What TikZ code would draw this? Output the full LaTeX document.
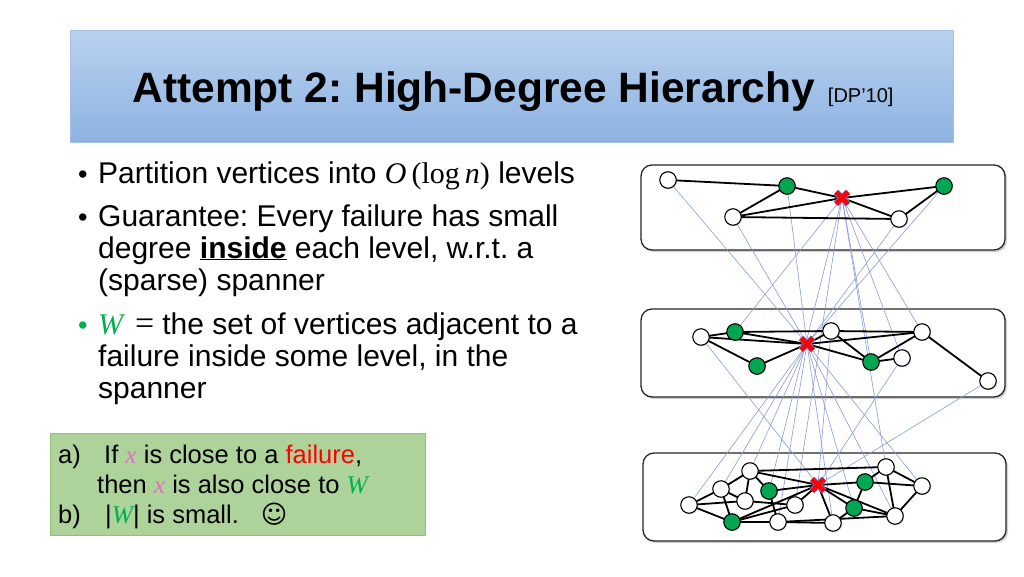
\RequirePackage{fix-cm}
\documentclass[tikz,border=0pt]{standalone}
\usepackage{fontspec}
\setmainfont{Liberation Sans}
\newfontfamily\symfont{DejaVu Sans}
\newfontfamily\mathserif{Liberation Serif}
\newcommand{\mvar}[1]{{\mathserif\itshape #1}}
\newcommand{\mtxt}[1]{{\mathserif #1}}
\usetikzlibrary{shadows}
\definecolor{titletop}{HTML}{B9D1EE}
\definecolor{titlebot}{HTML}{8DB3E2}
\definecolor{titleedge}{HTML}{A3BFE2}
\definecolor{notegreen}{HTML}{ADD39A}
\definecolor{noteedge}{HTML}{94C07C}
\definecolor{wgreen}{HTML}{00B050}
\definecolor{xpink}{HTML}{E46EC8}
\definecolor{failred}{HTML}{FF0000}
\definecolor{nodegreen}{HTML}{00A651}
\definecolor{spanblue}{HTML}{8A9BDA}
\definecolor{crossedge}{HTML}{7A6FB0}
\pgfdeclarelayer{panels}
\pgfdeclarelayer{links}
\pgfsetlayers{panels,links,main}
\tikzset{
  vtx/.style={circle, draw=black, line width=1.1pt, fill=white, minimum size=16.5pt, inner sep=0pt,
    drop shadow={opacity=0.25, shadow xshift=1pt, shadow yshift=-1pt}},
  gvtx/.style={vtx, fill=nodegreen},
  failvtx/.style={rectangle, minimum size=18pt, inner sep=0pt, path picture={
    \foreach \lw/\cc in {6.5pt/crossedge, 4.5pt/failred}
      \draw[line width=\lw, \cc]
        ([shift={(3pt,3pt)}]path picture bounding box.south west) -- ([shift={(-3pt,-3pt)}]path picture bounding box.north east)
        ([shift={(3pt,-3pt)}]path picture bounding box.north west) -- ([shift={(-3pt,3pt)}]path picture bounding box.south east);
  }},
  gedge/.style={line width=1.8pt},
  spanline/.style={line width=0.6pt, spanblue},
  panel/.style={draw=black!85, line width=1.3pt, fill=white, rounded corners=11pt,
    drop shadow={opacity=0.35, shadow xshift=2pt, shadow yshift=-2pt}},
  bodytext/.style={anchor=base west, inner sep=0pt, font=\fontsize{30}{32}\selectfont},
  notetext/.style={anchor=base west, inner sep=0pt, font=\fontsize{25.5}{30}\selectfont},
}
\frenchspacing
\begin{document}
\begin{tikzpicture}[x=1pt,y=-1pt]
  \useasboundingbox (0,0) rectangle (1024,576);
  \begin{pgfonlayer}{panels}
    \fill[white] (0,0) rectangle (1024,576);
    \draw[panel] (641,165) rectangle (1005,250);
    \draw[panel] (641,309) rectangle (1005,397);
    \draw[panel] (643,453) rectangle (1006,541);
  \end{pgfonlayer}

  % title bar
  \shade[top color=titletop, bottom color=titlebot] (70,30) rectangle (953,142);
  \draw[titleedge, line width=0.8pt] (70,30) rectangle (953,142);
  \node[anchor=base, inner sep=0pt] (title) at (513,102)
    {{\fontsize{42.5}{48}\selectfont\bfseries Attempt 2: High-Degree Hierarchy}\hspace{13pt}{\fontsize{20}{24}\selectfont [DP’10]}};

  % bullets
  \foreach \yy/\col [count=\i] in {183/black, 226/black, 334/wgreen}
    \node[anchor=base west, inner sep=0pt, font=\fontsize{27}{30}\selectfont, text=\col] (bul\i) at (78,\yy) {•};
  \foreach \yy/\txt [count=\i] in {%
    183/{Partition vertices into \mvar{O}\,\mtxt{(log\,}\mvar{n}\mtxt{)} levels},
    226/{Guarantee: Every failure has small},
    258/{degree \underline{\textbf{inside}} each level, w.r.t. a},
    290/{(sparse) spanner},
    334/{\textcolor{wgreen}{\mvar{W}}\hspace{12pt}\mtxt{\fontsize{34}{34}\selectfont =}\hspace{8pt}the set of vertices adjacent to a},
    366/{failure inside some level, in the},
    398/{spanner}}
    \node[bodytext] (line\i) at (98,\yy) {\txt};

  % green note
  \draw[draw=noteedge, fill=notegreen] (50,433) rectangle (425,535);
  \node[notetext] (lbla) at (58,463) {a)};
  \node[notetext] (note1) at (104,463) {If \textcolor{xpink}{\mvar{x}} is close to a \textcolor{failred}{failure},};
  \node[notetext] (note2) at (97,493) {then \textcolor{xpink}{\mvar{x}} is also close to \textcolor{wgreen}{\mvar{W}}};
  \node[notetext] (lblb) at (58,523) {b)};
  \node[notetext] (note3) at (105,523) {|\textcolor{wgreen}{\mvar{W}}| is small.\hspace{22pt}{\symfont ☺}};

  % vertices of the three levels
  \foreach \nm/\px/\py/\kind in {%
    t1/668/180/vtx, t2/787/186/gvtx, tx/842/198/failvtx, t3/944/186/gvtx,
    t4/733/217/vtx, t5/899/219/vtx,
    m1/701/337/vtx, m2/735/332/gvtx, mx/807/344/failvtx, m3/831/331/vtx,
    m4/922/332/vtx, m5/757/366/gvtx, m6/871/362/gvtx, m7/902/358/vtx, m8/988/381/vtx,
    b1/689/505/vtx, b2/721/489/vtx, b3/750/471/vtx, b4/745/501/vtx, b5/769/491/gvtx,
    b6/732/522/gvtx, b7/778/522/vtx, b8/795/505/vtx, bx/818/485/failvtx, b9/833/523/vtx,
    b10/854/508/gvtx, b11/865/482/gvtx, b12/886/467/vtx, b13/922/486/vtx, b14/895/516/vtx}
    \node[\kind] (\nm) at (\px,\py) {};

  \begin{pgfonlayer}{links}
    % spanner edges between levels
    \foreach \a/\b in {mx/t1, mx/t2, mx/t3, mx/t4, mx/t5,
        tx/m2, tx/m6, tx/m7, tx/m4, tx/b5, tx/b8, tx/b12,
        mx/b1, mx/b2, mx/b3, mx/b7, mx/b9, mx/b10, mx/b14, mx/b13,
        bx/m1, bx/m3, bx/m7, bx/m8}
      \draw[spanline] (\a.center) -- (\b.center);
    % edges inside each level
    \foreach \a/\b in {t1/t2, t2/tx, t2/t4, t4/tx, t4/t5, tx/t5, tx/t3, t3/t5,
        m1/m2, m1/mx, m1/m5, m2/mx, m2/m3, m3/mx, m3/m4, m3/m6, mx/m4, mx/m6,
        mx/m5, m6/m4, m6/m7, m4/m8,
        b1/b2, b1/b4, b1/b6, b2/b3, b2/b6, b2/b4, b3/b4, b3/b5, b3/bx, b3/b12,
        b4/b8, b5/bx, b5/b7, b6/bx, b6/b8, b6/b7, b7/b9, b8/bx, bx/b9, bx/b10,
        bx/b11, bx/b14, b9/b10, b10/b11, b10/b14, b11/b12, b11/b13, b12/b13,
        b12/b14, b13/b14, b7/b14}
      \draw[gedge] (\a.center) -- (\b.center);
  \end{pgfonlayer}
\end{tikzpicture}
\end{document}
